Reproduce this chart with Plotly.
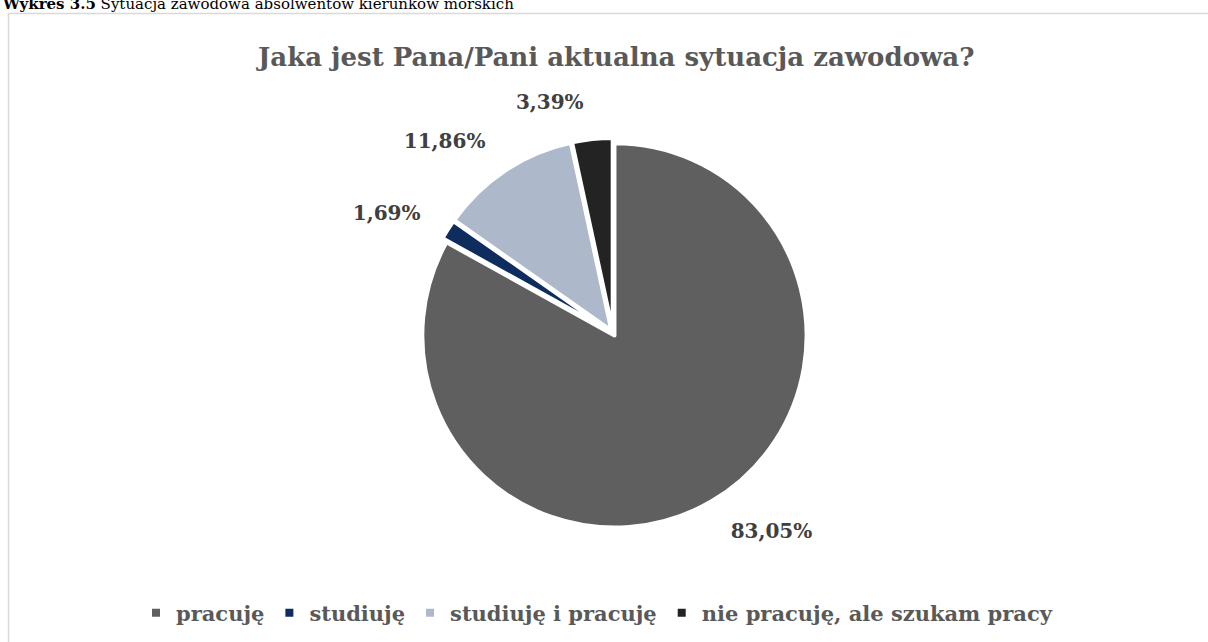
import plotly.graph_objects as go

categories = ["pracuję", "studiuję", "studiuję i pracuję", "nie pracuję, ale szukam pracy"]
values = [83.05, 1.69, 11.86, 3.39]
colors = ["#5f5f5f", "#0e2d5e", "#adb9cb", "#232323"]

title_text = "Jaka jest Pana/Pani aktualna sytuacja zawodowa?"
caption_bold = "Wykres 3.5"
caption_rest = " Sytuacja zawodowa absolwentów kierunków morskich"

W, H = 1208, 642
FONT = "DejaVu Serif, Liberation Serif, serif"
CX, CY = 613, 333  # pie centre in pixels from top-left
R = 195
RL = 220  # radius of the label-carrying pie

fig = go.Figure()
# visible pie
fig.add_trace(go.Pie(
    labels=categories,
    values=values,
    sort=False,
    direction="clockwise",
    rotation=0,
    marker=dict(colors=colors, line=dict(color="white", width=4)),
    pull=[0.015, 0.015, 0.015, 0.015],
    textinfo="none",
    hoverinfo="label+value",
    domain=dict(x=[(CX - R) / W, (CX + R) / W], y=[(H - CY - R) / H, (H - CY + R) / H]),
))
# transparent pie that only carries the outside data labels
fig.add_trace(go.Pie(
    labels=categories,
    values=values,
    sort=False,
    direction="clockwise",
    rotation=0,
    marker=dict(colors=["rgba(0,0,0,0)"] * 4, line=dict(width=0)),
    texttemplate="%{value:.2f}%",
    textposition="outside",
    textfont=dict(family=FONT, size=20, color="#404040", weight="bold"),
    hoverinfo="skip",
    showlegend=False,
    domain=dict(x=[(CX - RL) / W, (CX + RL) / W], y=[(H - CY - RL) / H, (H - CY + RL) / H]),
))

fig.update_layout(
    width=W, height=H,
    margin=dict(l=0, r=0, t=0, b=0),
    paper_bgcolor="white",
    separators=", ",
    showlegend=True,
    legend=dict(
        orientation="h", x=597 / W, xanchor="center", y=(H - 613) / H, yanchor="middle",
        font=dict(family=FONT, size=21, color="#595959", weight="bold"),
        itemwidth=30, traceorder="normal",
    ),
    shapes=[dict(type="rect", xref="paper", yref="paper",
                 x0=8.5 / W, x1=1.02, y0=-0.02, y1=(H - 13.5) / H,
                 line=dict(color="#d9d9d9", width=1.5), fillcolor="rgba(0,0,0,0)")],
    annotations=[
        dict(text=f"<b>{title_text}</b>", xref="paper", yref="paper", x=615 / W, y=(H - 57) / H,
             xanchor="center", yanchor="middle", showarrow=False,
             font=dict(family=FONT, size=26, color="#595959")),
        dict(text=f"<b>{caption_bold}</b>{caption_rest}", xref="paper", yref="paper", x=0, y=(H - 3.5) / H,
             xanchor="left", yanchor="middle", showarrow=False,
             font=dict(family=FONT, size=15, color="#000000")),
    ],
)

fig.write_html("out.html", config={"displayModeBar": False},
               post_script="document.body.style.margin='0px';")
